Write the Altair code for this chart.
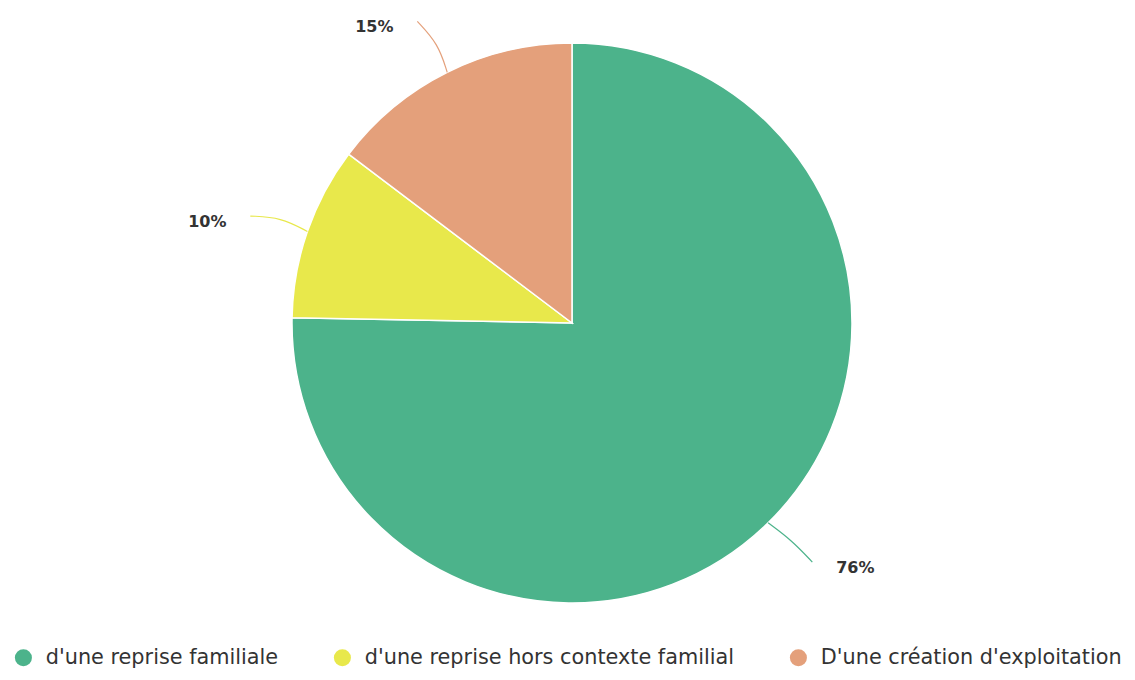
import math
import altair as alt
import pandas as pd

categories = ["d'une reprise familiale", "d'une reprise hors contexte familial", "D'une création d'exploitation"]
values = [75.3, 10.0, 14.7]
labels = ["76%", "10%", "15%"]
colors = ["#4cb38b", "#e8e84b", "#e4a07b"]

W, H = 1119, 664
CX, CY = 564, 315
R = 280
R2 = 339

total = sum(values)
pie_rows, line_rows, text_rows = [], [], []
cum = 0.0
for i, (c, v, l, col) in enumerate(zip(categories, values, labels, colors)):
    start = cum / total * 2 * math.pi
    cum += v
    end = cum / total * 2 * math.pi
    mid = (start + end) / 2
    s, co = math.sin(mid), math.cos(mid)
    sign = 1 if s > 0 else -1
    pie_rows.append({"category": c, "value": v, "idx": i})
    # slight bend in the connector, like the original curved leader lines
    bend = mid - sign * 0.015
    endang = mid - 0.012
    line_rows.append({"category": c, "lx": R * s, "ly": R * co, "lcolor": col, "k": 0})
    line_rows.append({"category": c, "lx": (R + R2) / 2 * math.sin(bend), "ly": (R + R2) / 2 * math.cos(bend), "lcolor": col, "k": 1})
    ex, ey = R2 * math.sin(endang), R2 * math.cos(endang)
    line_rows.append({"category": c, "lx": ex, "ly": ey, "lcolor": col, "k": 2})
    text_rows.append({"category": c, "tx": ex + sign * 43, "ty": ey - 6, "label": l})

pie_df = pd.DataFrame(pie_rows)
line_df = pd.DataFrame(line_rows)
text_df = pd.DataFrame(text_rows)

xs = alt.Scale(domain=[-CX, W - CX], zero=False, nice=False)
ys = alt.Scale(domain=[-(H - CY), CY], zero=False, nice=False)

arcs = alt.Chart(pie_df).mark_arc(radius=R, stroke="white", strokeWidth=1.5).encode(
    theta=alt.Theta("value:Q", stack=True),
    color=alt.Color(
        "category:N",
        scale=alt.Scale(domain=categories, range=colors),
        legend=alt.Legend(
            orient="none", legendX=5, legendY=639, direction="horizontal",
            title=None, symbolType="circle", symbolSize=290, symbolStrokeWidth=0,
            labelFont="DejaVu Sans", labelFontSize=20.8, labelColor="#333333",
            columnPadding=53, labelOffset=12, labelLimit=600,
        ),
    ),
    order=alt.Order("idx:Q"),
    x=alt.value(CX),
    y=alt.value(CY),
)

lines = alt.Chart(line_df).mark_line(strokeWidth=1.2, interpolate="basis").encode(
    x=alt.X("lx:Q", scale=xs, axis=None),
    y=alt.Y("ly:Q", scale=ys, axis=None),
    detail="category:N",
    order="k:Q",
    stroke=alt.Stroke("lcolor:N", scale=None),
)

texts = alt.Chart(text_df).mark_text(
    font="DejaVu Sans", fontSize=16, fontWeight="bold", color="#333333",
    align="center", baseline="middle",
).encode(
    x=alt.X("tx:Q", scale=xs, axis=None),
    y=alt.Y("ty:Q", scale=ys, axis=None),
    text="label:N",
)

chart = alt.layer(arcs, lines, texts).properties(
    width=W, height=H, autosize=alt.AutoSizeParams(type="none"), padding=0
).configure_view(stroke=None)

chart.save("out.html", embed_options={"renderer": "svg", "actions": False})
